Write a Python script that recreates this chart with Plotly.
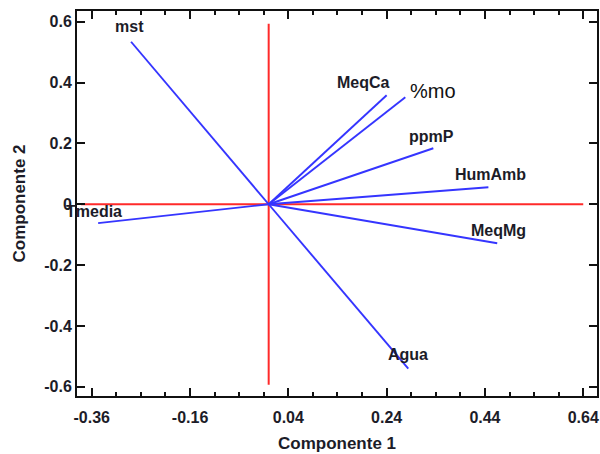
import plotly.graph_objects as go

variables = ["mst", "Tmedia", "MeqCa", "%mo", "ppmP", "HumAmb", "MeqMg", "Agua"]
comp1 = [-0.280, -0.347, 0.240, 0.278, 0.335, 0.447, 0.465, 0.284]
comp2 = [0.534, -0.062, 0.358, 0.352, 0.184, 0.056, -0.128, -0.540]

x_tickvals = [-0.36, -0.16, 0.04, 0.24, 0.44, 0.64]
x_ticktext = ["-0.36", "-0.16", "0.04", "0.24", "0.44", "0.64"]
y_tickvals = [0.6, 0.4, 0.2, 0.0, -0.2, -0.4, -0.6]
y_ticktext = ["0.6", "0.4", "0.2", "0", "-0.2", "-0.4", "-0.6"]

blue = "#3535ff"
red = "#ff2a2a"
ink = "#1c1c28"
bold_font = "Liberation Sans"

fig = go.Figure()

# red reference axes
fig.add_trace(go.Scatter(x=[-0.382, 0.64], y=[0, 0], mode="lines",
                         line=dict(color=red, width=2), hoverinfo="skip", showlegend=False))
fig.add_trace(go.Scatter(x=[0, 0], y=[0.593, -0.593], mode="lines",
                         line=dict(color=red, width=2), hoverinfo="skip", showlegend=False))

# loading vectors
for name, cx, cy in zip(variables, comp1, comp2):
    fig.add_trace(go.Scatter(x=[0, cx], y=[0, cy], mode="lines",
                             line=dict(color=blue, width=1.9), name=name, showlegend=False))

# label offsets (pixels)
offsets = {
    "mst": (-2, 15, "center"),
    "Tmedia": (-4, 12, "center"),
    "MeqCa": (-23, 13, "center"),
    "%mo": (3, 6, "left"),
    "ppmP": (-2, 12, "center"),
    "HumAmb": (2, 13, "center"),
    "MeqMg": (1, 13, "center"),
    "Agua": (0, 14, "center"),
}
for name, cx, cy in zip(variables, comp1, comp2):
    dx, dy, anchor = offsets[name]
    if name == "%mo":
        font = dict(family="Liberation Sans", size=20, color="#111111")
    else:
        font = dict(family=bold_font, size=16, color=ink, weight="bold")
    fig.add_annotation(x=cx, y=cy, text=name, showarrow=False, xanchor=anchor,
                       yanchor="middle", xshift=dx, yshift=dy, font=font)

axis_common = dict(showline=True, linecolor="#111111", linewidth=2, mirror="ticks",
                   ticks="inside", tickcolor="#111111", tickwidth=2, ticklen=8,
                   showgrid=False, zeroline=False, automargin=False,
                   tickfont=dict(family=bold_font, size=16, color=ink, weight="bold"))

fig.update_layout(
    width=600, height=454,
    margin=dict(l=77, r=3, t=11, b=58),
    paper_bgcolor="white", plot_bgcolor="white",
    xaxis=dict(range=[-0.39, 0.668], tickmode="array", tickvals=x_tickvals,
               ticktext=x_ticktext, ticklabelstandoff=6,
               minor=dict(tick0=-0.36, dtick=0.05, ticks="inside", ticklen=4,
                          tickwidth=2, tickcolor="#111111"),
               title=dict(text="Componente 1", standoff=12,
                          font=dict(family=bold_font, size=17, color=ink, weight="bold")),
               **axis_common),
    yaxis=dict(range=[-0.63, 0.635], tickmode="array", tickvals=y_tickvals,
               ticktext=y_ticktext,
               title=dict(text="Componente 2", standoff=14,
                          font=dict(family=bold_font, size=17, color=ink, weight="bold")),
               **axis_common),
)

fig.write_html("out.html", config={"displayModeBar": False},
               post_script="document.body.style.margin='0';document.body.style.padding='0';")
